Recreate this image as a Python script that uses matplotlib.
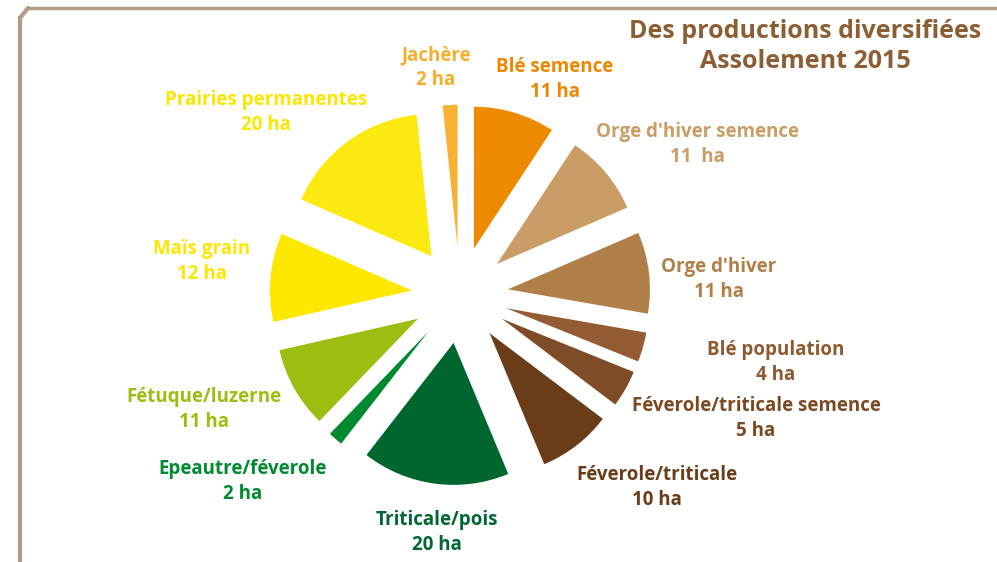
"""Assolement 2015 : camembert éclaté des surfaces par culture."""

import matplotlib

matplotlib.use("Agg")

import matplotlib.pyplot as plt
from matplotlib.lines import Line2D

W, H = 997, 562

# --- data (ha), clockwise from the top ---
cultures = [
    "Jachère",
    "Blé semence",
    "Orge d'hiver semence",
    "Orge d'hiver",
    "Blé population",
    "Féverole/triticale semence",
    "Féverole/triticale",
    "Triticale/pois",
    "Epeautre/féverole",
    "Fétuque/luzerne",
    "Maïs grain",
    "Prairies permanentes",
]
surfaces = [2, 11, 11, 11, 4, 5, 10, 20, 2, 11, 12, 20]
surface_labels = ["2 ha", "11 ha", "11  ha", "11 ha", "4 ha", "5 ha",
                  "10 ha", "20 ha", "2 ha", "11 ha", "12 ha", "20 ha"]

slice_colors = ["#F7B233", "#EE8A00", "#C99D65", "#B08048", "#935C34", "#7E4C26",
                "#6A3C18", "#006630", "#008A30", "#9BBE10", "#FFE800", "#FBE90F"]
text_colors = ["#F6AE2D", "#EE8700", "#C99D65", "#B08048", "#8E5A30", "#7B4A22",
               "#6A3C18", "#006633", "#008A30", "#9BBE10", "#FFE600", "#FBE600"]

# label centres in pixels (x, y of first line), top-left origin
label_pos = [(436, 55), (555, 67), (697, 132), (719, 267), (776, 350), (756, 406),
             (657, 475), (437, 520), (243, 469), (204, 397), (202, 249), (266, 100)]

plt.rcParams["font.family"] = ["Open Sans", "DejaVu Sans"]

fig = plt.figure(figsize=(W / 100, H / 100), dpi=100)
fig.patch.set_facecolor("white")


def fx(px):
    return px / W


def fy(py):
    return 1 - py / H


# pie axes: centre at (460, 295) px, 1 unit = 142 px, limits +/-1.5
cx, cy, unit = 460, 295, 142
side = 3 * unit
ax = fig.add_axes([fx(cx - side / 2), fy(cy + side / 2), side / W, side / H])
ax.pie(
    surfaces,
    colors=slice_colors,
    explode=[0.34] * len(surfaces),
    startangle=96,
    counterclock=False,
    radius=1.0,
    wedgeprops={"linewidth": 0},
)
ax.set_xlim(-1.5, 1.5)
ax.set_ylim(-1.5, 1.5)
ax.set_aspect("equal")
ax.axis("off")

for name, lab, (x, y), col in zip(cultures, surface_labels, label_pos, text_colors):
    fig.text(fx(x), fy(y), name, color=col, fontsize=13.5, fontweight="bold",
             ha="center", va="center")
    fig.text(fx(x), fy(y + 25), lab, color=col, fontsize=13.5, fontweight="bold",
             ha="center", va="center")

# title
title_color = "#8C5E34"
fig.text(fx(805), fy(31), "Des productions diversifiées", color=title_color,
         fontsize=18, fontweight="bold", ha="center", va="center")
fig.text(fx(805), fy(62), "Assolement 2015", color=title_color,
         fontsize=18, fontweight="bold", ha="center", va="center")

# hand-drawn style frame (left and top)
frame_color = "#B09A88"
fig.add_artist(Line2D([fx(20), fx(20)], [fy(18), fy(562)], color=frame_color,
                      linewidth=3, transform=fig.transFigure))
fig.add_artist(Line2D([fx(28), fx(997)], [fy(8), fy(8)], color=frame_color,
                      linewidth=2.5, transform=fig.transFigure))
fig.add_artist(Line2D([fx(20), fx(28)], [fy(18), fy(8)], color=frame_color,
                      linewidth=3, transform=fig.transFigure, solid_capstyle="round"))

fig.savefig("out.png", dpi=100)
